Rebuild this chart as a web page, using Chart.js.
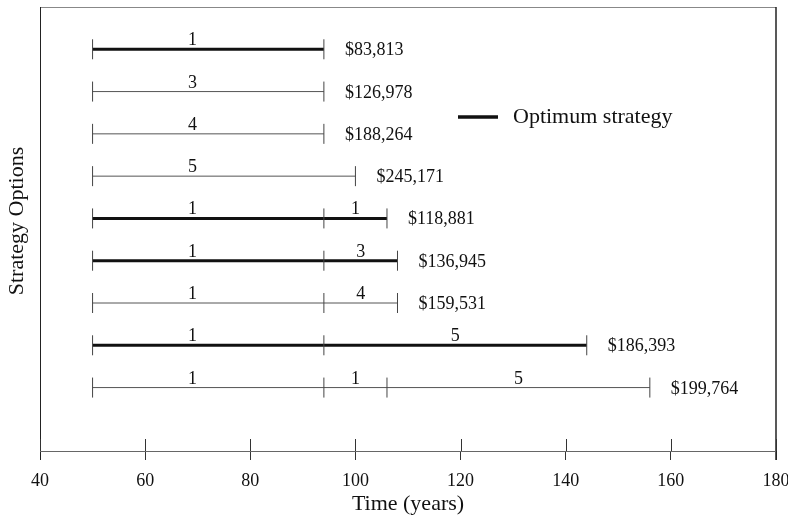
<!DOCTYPE html>
<html>
<head>
<meta charset="utf-8">
<script src="https://cdn.jsdelivr.net/npm/chart.js@4"></script>
<style>
  html, body { margin: 0; padding: 0; background: #fff; }
  #wrap { width: 788px; height: 519px; }
</style>
</head>
<body>
<div id="wrap"><canvas id="c" width="788" height="519"></canvas></div>
<script>
// Strategy options (one row each), their stage numbers and the years at which stages change
const strategyRows = [1, 2, 3, 4, 5, 6, 7, 8, 9];
const stageNumbers = [[1], [3], [4], [5], [1, 1], [1, 3], [1, 4], [1, 5], [1, 1, 5]];
const stageYears = [[50, 94], [50, 94], [50, 94], [50, 100], [50, 94, 106], [50, 94, 108], [50, 94, 108], [50, 94, 144], [50, 94, 106, 156]];
const strategyCosts = [83813, 126978, 188264, 245171, 118881, 136945, 159531, 186393, 199764];
const isOptimum = [true, false, false, false, true, true, false, true, false];
const timeTicks = [40, 60, 80, 100, 120, 140, 160, 180];

const SERIF = "'Liberation Serif', 'Times New Roman', serif";
const INK = '#111';
Chart.defaults.font.family = SERIF;
Chart.defaults.color = INK;

const datasets = strategyRows.map((row, i) => ({
  label: 'Strategy ' + row,
  data: stageYears[i].map(year => ({ x: year, y: row })),
  showLine: true,
  borderColor: isOptimum[i] ? '#111' : '#555',
  borderWidth: isOptimum[i] ? 3 : 1,
  pointStyle: 'line',
  pointRotation: 90,
  pointRadius: 10,
  pointBorderWidth: 1,
  pointBorderColor: '#444',
  pointBackgroundColor: '#444',
  pointHoverRadius: 10,
  clip: false
}));

// first-stage numbers sit this many years after the stage start, the others are centred
const FIRST_STAGE_LABEL_SHIFT = 19;

// keep the plot box fixed: no extra room reserved for edge tick labels
function noEdgePadding(s) {
  s.paddingLeft = 0; s.paddingRight = 0; s.paddingTop = 0; s.paddingBottom = 0;
}

const annotate = {
  id: 'annotate',
  afterDatasetsDraw(chart) {
    const { ctx, chartArea: a, scales: { x, y } } = chart;
    ctx.save();

    // frame around the plot
    ctx.lineWidth = 1;
    ctx.strokeStyle = '#888';
    ctx.beginPath(); ctx.moveTo(a.left, a.top + 0.5); ctx.lineTo(a.right, a.top + 0.5); ctx.stroke();
    ctx.strokeStyle = '#222';
    ctx.beginPath(); ctx.moveTo(a.left + 0.5, a.top); ctx.lineTo(a.left + 0.5, a.bottom + 9); ctx.stroke();
    ctx.lineWidth = 1.5;
    ctx.beginPath(); ctx.moveTo(a.right, a.top); ctx.lineTo(a.right, a.bottom + 9); ctx.stroke();
    ctx.lineWidth = 1;
    ctx.strokeStyle = '#666';
    ctx.beginPath(); ctx.moveTo(a.left, a.bottom + 0.5); ctx.lineTo(a.right, a.bottom + 0.5); ctx.stroke();

    // upper half of the time tick marks
    ctx.strokeStyle = '#333';
    timeTicks.forEach(t => {
      const px = Math.round(x.getPixelForValue(t)) + 0.5;
      ctx.beginPath(); ctx.moveTo(px, a.bottom - 12); ctx.lineTo(px, a.bottom); ctx.stroke();
    });

    // stage numbers above each segment and cost at the end of each row
    ctx.fillStyle = INK;
    strategyRows.forEach((row, i) => {
      const py = y.getPixelForValue(row);
      const yrs = stageYears[i];
      ctx.font = '18px ' + SERIF;
      ctx.textAlign = 'center';
      ctx.textBaseline = 'alphabetic';
      stageNumbers[i].forEach((n, k) => {
        const yr = k === 0 ? yrs[0] + FIRST_STAGE_LABEL_SHIFT : (yrs[k] + yrs[k + 1]) / 2;
        ctx.fillText(String(n), x.getPixelForValue(yr), py - 4);
      });
      ctx.textAlign = 'left';
      const endPx = x.getPixelForValue(yrs[yrs.length - 1]);
      ctx.fillText('$' + strategyCosts[i].toLocaleString('en-US'), endPx + 21, py + 6);
    });

    // legend entry
    ctx.strokeStyle = '#111';
    ctx.lineWidth = 3.5;
    ctx.beginPath(); ctx.moveTo(458, 117); ctx.lineTo(498, 117); ctx.stroke();
    ctx.font = '22px ' + SERIF;
    ctx.textAlign = 'left';
    ctx.textBaseline = 'alphabetic';
    ctx.fillText('Optimum strategy', 513, 123);

    // vertical axis title
    ctx.translate(17, 221);
    ctx.rotate(-Math.PI / 2);
    ctx.font = '22px ' + SERIF;
    ctx.textAlign = 'center';
    ctx.textBaseline = 'middle';
    ctx.fillText('Strategy Options', 0, 0);
    ctx.restore();
  }
};

new Chart(document.getElementById('c'), {
  type: 'scatter',
  data: { datasets },
  plugins: [annotate],
  options: {
    responsive: false,
    animation: false,
    events: [],
    layout: { autoPadding: false, padding: { top: 7, right: 12, left: 0, bottom: 0 } },
    plugins: { legend: { display: false }, tooltip: { enabled: false } },
    scales: {
      x: {
        type: 'linear',
        position: 'bottom',
        min: 40,
        max: 180,
        afterBuildTicks: s => { s.ticks = timeTicks.map(v => ({ value: v })); },
        afterFit: s => { s.height = 68; noEdgePadding(s); },
        ticks: { font: { size: 18 }, color: INK, padding: 10, maxRotation: 0 },
        grid: { drawOnChartArea: false, drawTicks: true, tickLength: 9, color: '#333' },
        border: { display: false },
        title: { display: true, text: 'Time (years)', font: { size: 22 }, color: INK, padding: { top: 0, bottom: 2 } }
      },
      y: {
        type: 'linear',
        reverse: true,
        min: 0,
        max: 10.5,
        afterFit: s => { s.width = 40; noEdgePadding(s); },
        ticks: { display: false },
        grid: { display: false },
        border: { display: false }
      }
    }
  }
});
</script>
</body>
</html>
